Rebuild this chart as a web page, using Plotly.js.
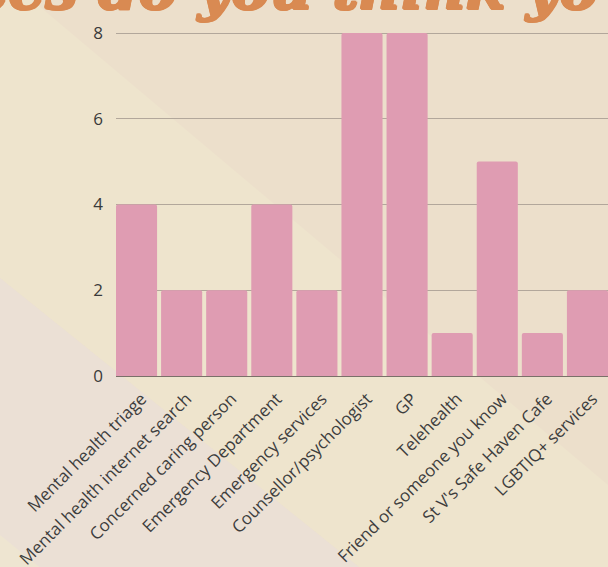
<!DOCTYPE html>
<html>
<head>
<meta charset="utf-8">
<script src="https://cdn.plot.ly/plotly-3.0.1.min.js"></script>
<style>html,body{margin:0;padding:0;background:#ecdfcb;}#chart{width:608px;height:567px;}</style>
</head>
<body>
<div id="chart"></div>
<script>
const categories = [
  "Mental health triage",
  "Mental health internet search",
  "Concerned caring person",
  "Emergency Department",
  "Emergency services",
  "Counsellor/psychologist",
  "GP",
  "Telehealth",
  "Friend or someone you know",
  "St V's Safe Haven Cafe",
  "LGBTIQ+ services"
];
const counts = [4, 2, 2, 4, 2, 8, 8, 1, 5, 1, 2];
const yTicks = [0, 2, 4, 6, 8];
const titleFragment = "ces do you think yo";

// plot-area geometry (pixels) used to place decorative background shapes
const L = 116, R = 608, T = 31, B = 376;
const px = x => (x - L) / (R - L);
const py = y => (B - y) / (B - T);
const poly = pts => 'M' + pts.map(p => px(p[0]) + ',' + py(p[1])).join(' L') + ' Z';

const shapes = [
  {type:'path', xref:'paper', yref:'paper', layer:'below', line:{width:0}, fillcolor:'#eee4cd',
   path: poly([[-10,-10],[20,-10],[640,512],[640,600],[400,600],[-10,270]])},
  {type:'path', xref:'paper', yref:'paper', layer:'below', line:{width:0}, fillcolor:'#ebe0d5',
   path: poly([[-10,270],[400,600],[-10,600]])},
  {type:'path', xref:'paper', yref:'paper', layer:'below', line:{width:0}, fillcolor:'#eee5d1',
   path: poly([[-10,527],[80,600],[-10,600]])}
];

const data = [{
  type: 'bar',
  x: categories,
  y: counts,
  marker: {color: '#df9cb2', cornerradius: 2, line:{width:0}},
  hoverinfo: 'x+y'
}];

const thick = '1px 0 0 #d98a52, -1px 0 0 #d98a52, 0 1px 0 #d98a52, 0 -1px 0 #d98a52, 1px 1px 0 #d98a52, -1px -1px 0 #d98a52';

const layout = {
  width: 608, height: 567,
  margin: {l: 116, r: 0, t: 31, b: 191, pad: 0},
  paper_bgcolor: '#ecdfcb',
  plot_bgcolor: 'rgba(0,0,0,0)',
  bargap: 0.089,
  showlegend: false,
  font: {family: '"Open Sans", sans-serif', color: '#3a3a3a'},
  xaxis: {
    type: 'category',
    range: [-0.4555, 10.4555],
    tickangle: -45,
    tickfont: {size: 17, color: '#3d3d3d'},
    showline: true, linecolor: '#7a7069', linewidth: 1.3,
    showgrid: false, ticks: '', ticklabelstandoff: 5, ticklabelshift: 5, fixedrange: true
  },
  yaxis: {
    range: [0, 8.0466],
    tickvals: yTicks,
    tickfont: {size: 17, color: '#3a3a3a'},
    gridcolor: '#b2a79b', gridwidth: 1,
    zeroline: false, showline: false, ticks: '',
    ticklabelstandoff: 12, fixedrange: true
  },
  shapes: shapes,
  annotations: [{
    text: titleFragment,
    xref: 'paper', yref: 'paper',
    x: px(-29), y: py(-11),
    xanchor: 'left', yanchor: 'middle',
    showarrow: false,
    font: {family: '"DejaVu Serif", serif', size: 58, color: '#d98a52', weight: 'bold', style: 'italic', shadow: thick}
  }]
};

Plotly.newPlot('chart', data, layout, {displayModeBar: false, staticPlot: true});
</script>
</body>
</html>
